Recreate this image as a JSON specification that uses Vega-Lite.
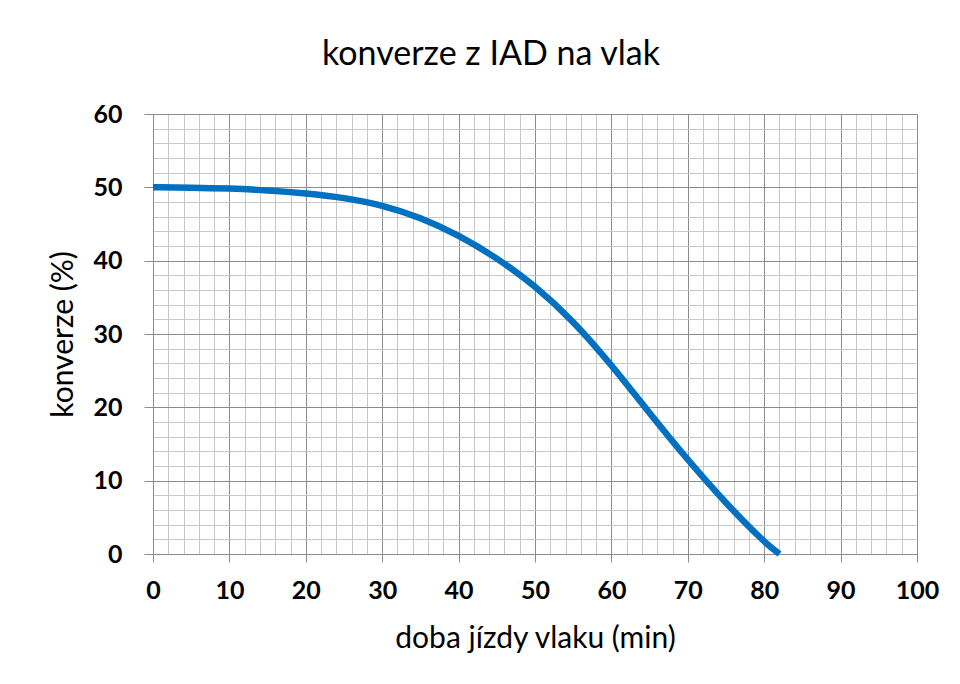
{
  "$schema": "https://vega.github.io/schema/vega-lite/v6.json",
  "width": 764,
  "height": 440,
  "autosize": "none",
  "padding": {"left": 153, "top": 114, "right": 43, "bottom": 130},
  "background": "white",
  "title": {
    "text": "konverze z IAD na vlak",
    "font": "Lato",
    "fontSize": 34,
    "fontWeight": "normal",
    "color": "black",
    "anchor": "middle",
    "dx": -44,
    "offset": 30
  },
  "config": {"view": {"stroke": null}, "font": "Lato"},
  "data": {
    "values": [
      {"t": 0, "k": 50.0},
      {"t": 5, "k": 49.97},
      {"t": 10, "k": 49.85},
      {"t": 15, "k": 49.6},
      {"t": 20, "k": 49.2},
      {"t": 25, "k": 48.6},
      {"t": 30, "k": 47.6},
      {"t": 35, "k": 45.9},
      {"t": 40, "k": 43.5},
      {"t": 45, "k": 40.4},
      {"t": 50, "k": 36.6},
      {"t": 55, "k": 31.8},
      {"t": 60, "k": 25.8},
      {"t": 65, "k": 19.2},
      {"t": 70, "k": 12.8},
      {"t": 75, "k": 6.9},
      {"t": 80, "k": 1.6},
      {"t": 82, "k": 0}
    ]
  },
  "layer": [
    {
      "mark": {"type": "line", "opacity": 0},
      "encoding": {
        "x": {
          "field": "t", "type": "quantitative",
          "scale": {"domain": [0, 100], "nice": false},
          "axis": {
            "orient": "bottom",
            "values": [0,2,4,6,8,10,12,14,16,18,20,22,24,26,28,30,32,34,36,38,40,42,44,46,48,50,52,54,56,58,60,62,64,66,68,70,72,74,76,78,80,82,84,86,88,90,92,94,96,98,100],
            "grid": true, "gridColor": "#c8c8c8", "gridOpacity": 1, "gridWidth": 1,
            "domain": false, "ticks": false, "labels": false, "title": null
          }
        },
        "y": {
          "field": "k", "type": "quantitative",
          "scale": {"domain": [0, 60], "nice": false},
          "axis": {
            "orient": "left",
            "values": [0,2,4,6,8,10,12,14,16,18,20,22,24,26,28,30,32,34,36,38,40,42,44,46,48,50,52,54,56,58,60],
            "grid": true, "gridColor": "#c8c8c8", "gridOpacity": 1, "gridWidth": 1,
            "domain": false, "ticks": false, "labels": false, "title": null
          }
        }
      }
    },
    {
      "mark": {"type": "line", "color": "#0070C0", "strokeWidth": 6.5, "interpolate": "basis", "strokeCap": "butt"},
      "encoding": {
        "x": {
          "field": "t", "type": "quantitative",
          "scale": {"domain": [0, 100], "nice": false},
          "axis": {
            "orient": "bottom",
            "values": [0,10,20,30,40,50,60,70,80,90,100],
            "grid": true, "gridColor": "#8c8c8c", "gridOpacity": 1, "gridWidth": 1,
            "domain": true, "domainColor": "#8c8c8c", "domainWidth": 1,
            "ticks": true, "tickColor": "#8c8c8c", "tickSize": 8, "tickWidth": 1,
            "labelFont": "Lato", "labelFontSize": 25, "labelFontWeight": "bold", "labelColor": "black",
            "labelPadding": 16, "labelFlush": false, "labelOverlap": false, "labelBound": false,
            "title": "doba jízdy vlaku (min)",
            "titleFont": "Lato", "titleFontSize": 30, "titleFontWeight": "normal", "titleColor": "black",
            "titlePadding": 20
          }
        },
        "y": {
          "field": "k", "type": "quantitative",
          "scale": {"domain": [0, 60], "nice": false},
          "axis": {
            "orient": "left",
            "values": [0,10,20,30,40,50,60],
            "grid": true, "gridColor": "#8c8c8c", "gridOpacity": 1, "gridWidth": 1,
            "domain": true, "domainColor": "#8c8c8c", "domainWidth": 1,
            "ticks": true, "tickColor": "#8c8c8c", "tickSize": 9, "tickWidth": 1,
            "labelFont": "Lato", "labelFontSize": 25, "labelFontWeight": "bold", "labelColor": "black",
            "labelPadding": 22, "labelFlush": false, "labelOverlap": false, "labelBound": false,
            "title": "konverze (%)",
            "titleFont": "Lato", "titleFontSize": 30, "titleFontWeight": "normal", "titleColor": "black",
            "titlePadding": 14
          }
        }
      }
    }
  ],
  "resolve": {"axis": {"x": "independent", "y": "independent"}}
}
